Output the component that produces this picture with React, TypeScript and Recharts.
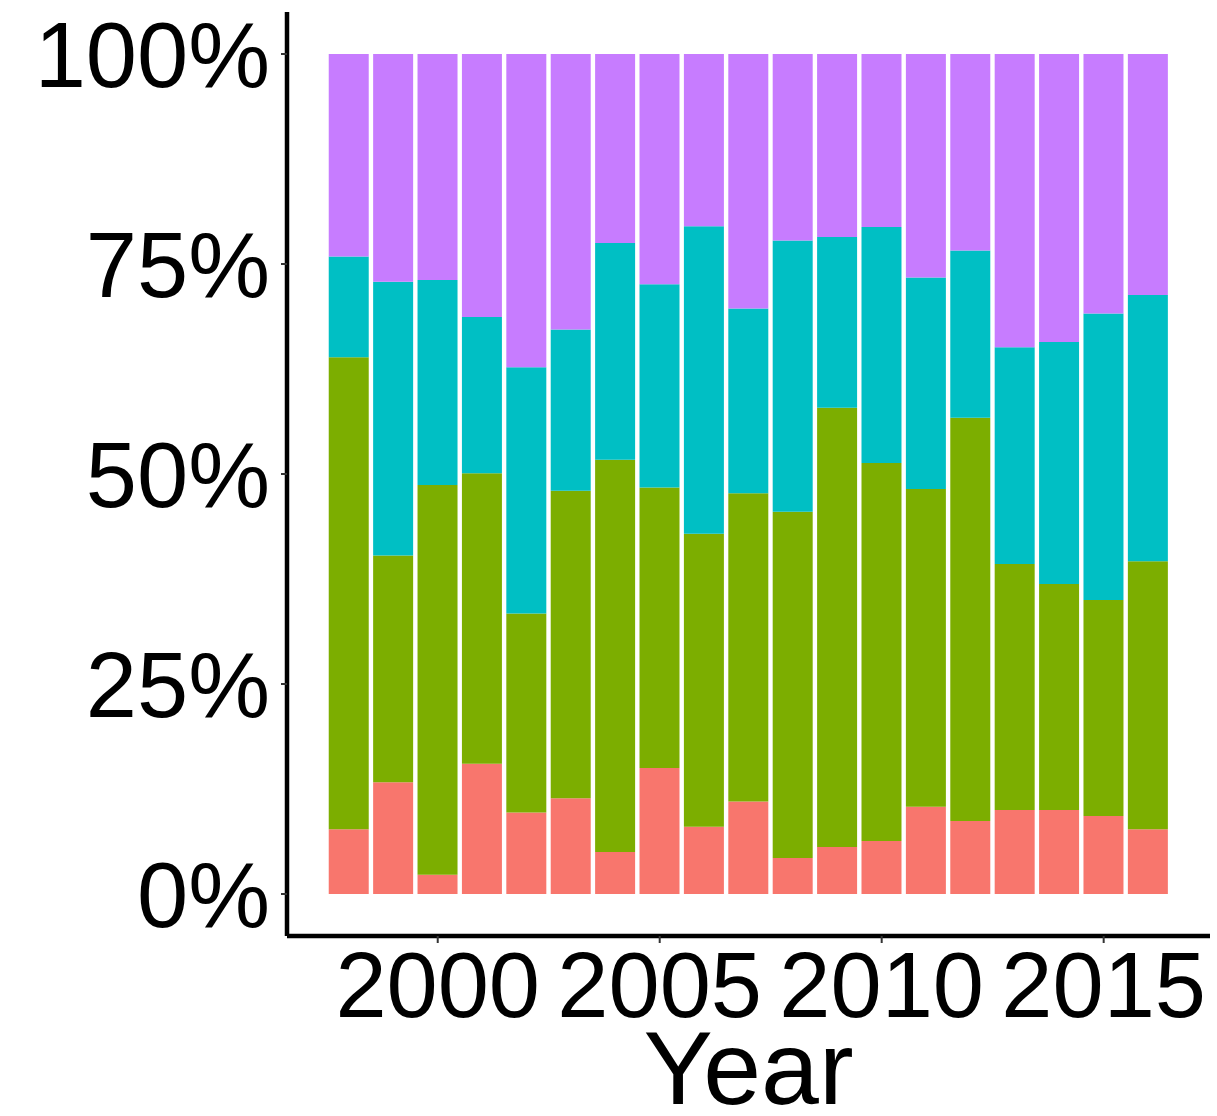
import { BarChart, Bar, XAxis, YAxis, Label } from 'recharts';

const years = [1998, 1999, 2000, 2001, 2002, 2003, 2004, 2005, 2006, 2007, 2008, 2009, 2010, 2011, 2012, 2013, 2014, 2015, 2016];

// share of each group per year, in %
const groupA = [7.7, 13.3, 2.3, 15.5, 9.7, 11.4, 5.0, 15.0, 8.0, 11.0, 4.3, 5.6, 6.3, 10.4, 8.7, 10.0, 10.0, 9.3, 7.7];
const groupB = [56.2, 27.0, 46.4, 34.6, 23.7, 36.6, 46.7, 33.4, 34.9, 36.7, 41.2, 52.3, 45.0, 37.8, 48.0, 29.3, 26.9, 25.7, 31.9];
const groupC = [12.0, 32.6, 24.4, 18.6, 29.3, 19.2, 25.8, 24.2, 36.6, 22.0, 32.3, 20.3, 28.1, 25.2, 19.9, 25.8, 28.8, 34.1, 31.7];
const groupD = [24.1, 27.1, 26.9, 31.3, 37.3, 32.8, 22.5, 27.4, 20.5, 30.3, 22.2, 21.8, 20.6, 26.6, 23.4, 34.9, 34.3, 30.9, 28.7];

const xTicks = [2000, 2005, 2010, 2015];
const yTicks = [0, 25, 50, 75, 100];

const data = years.map((year, i) => ({
  year,
  a: groupA[i],
  b: groupB[i],
  c: groupC[i],
  d: groupD[i],
}));

const font = '"Liberation Sans", Arial, Helvetica, sans-serif';

export default function App() {
  return (
    <div style={{ position: 'absolute', left: 0, top: 0, fontFamily: font }}>
      <BarChart
        width={1217}
        height={1116}
        data={data}
        margin={{ top: 12, right: 7, left: 0, bottom: 0 }}
        barSize={40}
      >
        <XAxis
          dataKey="year"
          type="number"
          domain={[1996.605, 2017.395]}
          allowDataOverflow
          ticks={xTicks}
          height={180}
          axisLine={{ stroke: '#000', strokeWidth: 4.5 }}
          tickLine={{ stroke: '#333', strokeWidth: 2 }}
          tickSize={7}
          tickMargin={9}
          tick={{ fill: '#000', fontSize: 92, fontFamily: font }}
          interval={0}
        >
          <Label
            value="Year"
            position="insideBottom"
            offset={12}
            style={{ fill: '#000', fontSize: 104, fontFamily: font }}
          />
        </XAxis>
        <YAxis
          width={287}
          domain={[-5, 105]}
          allowDataOverflow
          ticks={yTicks}
          tickFormatter={(v) => `${v}%`}
          axisLine={{ stroke: '#000', strokeWidth: 4.5 }}
          tickLine={{ stroke: '#333', strokeWidth: 2 }}
          tickSize={6}
          tickMargin={11}
          tick={{ fill: '#000', fontSize: 92, fontFamily: font }}
          interval={0}
        />
        <Bar dataKey="a" stackId="s" fill="#F8766D" isAnimationActive={false} />
        <Bar dataKey="b" stackId="s" fill="#7CAE00" isAnimationActive={false} />
        <Bar dataKey="c" stackId="s" fill="#00BFC4" isAnimationActive={false} />
        <Bar dataKey="d" stackId="s" fill="#C77CFF" isAnimationActive={false} />
      </BarChart>
    </div>
  );
}
